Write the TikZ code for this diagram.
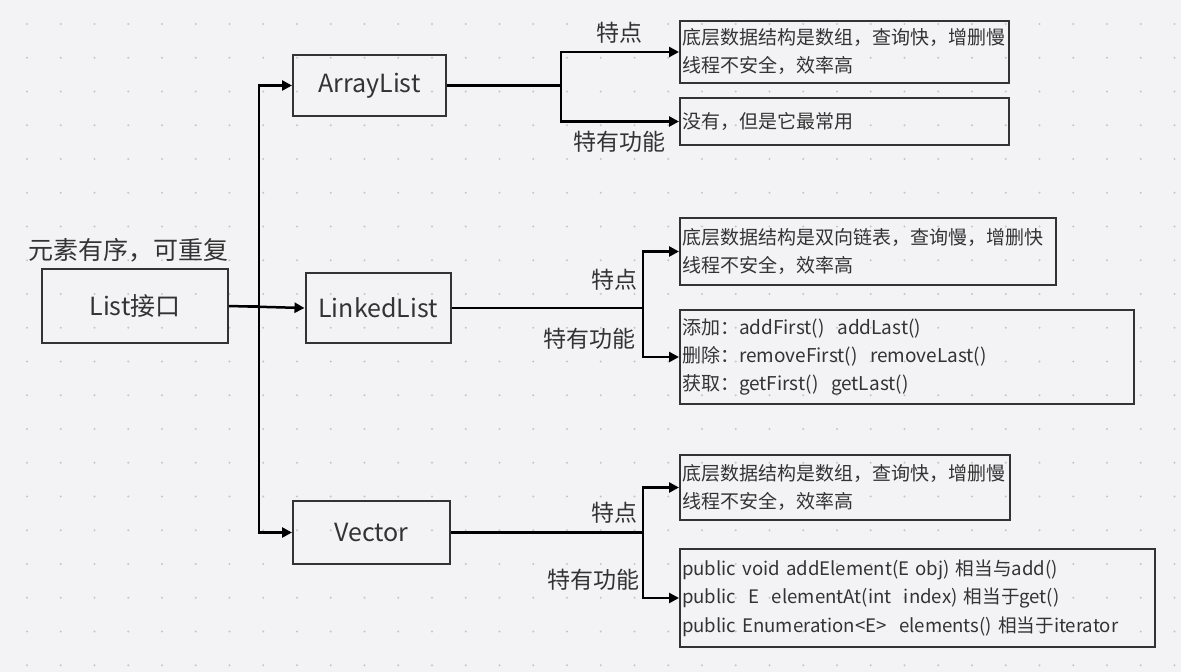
\documentclass[tikz,border=0pt]{standalone}
\usepackage{fontspec}
\setmainfont{Noto Sans CJK SC}
\usetikzlibrary{arrows.meta}
\definecolor{bg}{HTML}{F3F3F5}
\definecolor{dotc}{HTML}{C6C6CA}
\definecolor{ink}{HTML}{333333}
\begin{document}
\begin{tikzpicture}[x=1pt,y=-1pt,
  mainbox/.style={draw=ink, line width=2pt, text=ink, font=\fontsize{25}{28}\selectfont, inner sep=0pt},
  infobox/.style={draw=ink, line width=2pt, text=ink, font=\fontsize{19}{28}\selectfont, align=left, anchor=north west, inner xsep=2pt, inner ysep=0pt},
  lbl/.style={text=ink, font=\fontsize{23}{26}\selectfont, inner sep=0pt},
  conn/.style={draw=black, line width=2.5pt, line join=miter},
  arr/.style={conn, -{Triangle[length=10pt,width=10pt]}}]
\fill[bg] (0,0) rectangle (1181,672);
\useasboundingbox (0,0) rectangle (1181,672);
\foreach \i in {0,...,34} {\foreach \j in {0,...,19} {\fill[dotc] (27+33.75*\i, 24+33.75*\j) circle (1.1pt);}}

% main boxes
\node[mainbox, minimum width=186pt, minimum height=74pt] (list) at (135,306) {List接口};
\node[mainbox, minimum width=153pt, minimum height=61pt] (arraylist) at (369.5,85.5) {ArrayList};
\node[mainbox, minimum width=145pt, minimum height=70pt] (linkedlist) at (378,308) {LinkedList};
\node[mainbox, minimum width=157pt, minimum height=63pt] (vector) at (371.5,532.5) {Vector};
\node[lbl, font=\fontsize{25}{28}\selectfont] (desc) at (128,250) {元素有序，可重复};

% info boxes
\node[infobox, text width=325pt, minimum height=62pt] (b1) at (679,20) {底层数据结构是数组，查询快，增删慢\\线程不安全，效率高};
\node[infobox, text width=325pt, minimum height=47pt] (b2) at (679,97) {没有，但是它最常用};
\node[infobox, text width=372pt, minimum height=67pt] (b3) at (679,217) {底层数据结构是双向链表，查询慢，增删快\\线程不安全，效率高};
\node[infobox, text width=450pt, minimum height=94pt] (b4) at (679,309) {添加：addFirst()~ addLast()\\删除：removeFirst()~ removeLast()\\获取：getFirst()~ getLast()};
\node[infobox, text width=326pt, minimum height=65pt] (b5) at (679,454) {底层数据结构是数组，查询快，增删慢\\线程不安全，效率高};
\node[infobox, text width=471pt, minimum height=98pt, font=\fontsize{18.6}{28.5}\selectfont] (b6) at (679,548) {public void addElement(E obj) 相当与add()\\public~ E~ elementAt(int~ index) 相当于get()\\public Enumeration<E>~ elements() 相当于iterator};

% branch labels
\node[lbl] (a1) at (619,33) {特点};
\node[lbl] (a2) at (619,142) {特有功能};
\node[lbl] (l1) at (614,280) {特点};
\node[lbl] (l2) at (589,339) {特有功能};
\node[lbl] (v1) at (614,513) {特点};
\node[lbl] (v2) at (593,580) {特有功能};

% connectors from List
\coordinate (jL) at (259,306);
\draw[conn] (list.east) -- (jL);
\draw[arr] (jL) |- (arraylist.west);
\draw[arr] (jL) |- (vector.west);
\draw[arr] (list.east) -- (linkedlist.west);

% ArrayList branches
\coordinate (jA) at (561,85.5);
\draw[conn] (arraylist.east) -- (jA);
\draw[arr] (jA) |- (b1.west);
\draw[arr] (jA) |- (b2.west);

% LinkedList branches
\coordinate (jK) at (643,308);
\draw[conn] (linkedlist.east) -- (jK);
\draw[arr] (jK) |- (b3.west);
\draw[arr] (jK) |- (b4.west);

% Vector branches
\coordinate (jV) at (643,532.5);
\draw[conn] (vector.east) -- (jV);
\draw[arr] (jV) |- (b5.west);
\draw[arr] (jV) |- (b6.west);
\end{tikzpicture}
\end{document}
